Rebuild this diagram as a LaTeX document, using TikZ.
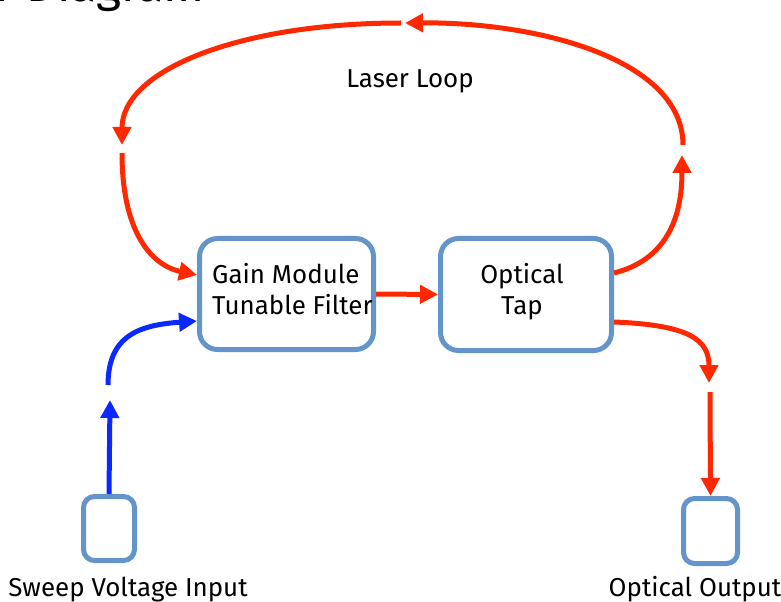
\documentclass[tikz,border=0pt]{standalone}
\usepackage{fontspec}
\setmainfont{Fira Sans}
\usetikzlibrary{arrows.meta,calc}
\definecolor{boxblue}{RGB}{100,149,202}
\definecolor{loopred}{RGB}{255,40,0}
\definecolor{sweepblue}{RGB}{10,40,255}
\begin{document}
\begin{tikzpicture}[x=1bp,y=-1bp,
  box/.style={draw=boxblue, line width=5bp, rounded corners=18bp, inner sep=0pt, fill=white},
  smallbox/.style={box, rounded corners=11bp},
  lbl/.style={font=\fontsize{26}{31}\selectfont, inner sep=0pt},
  redarrow/.style={draw=loopred, line width=5bp, -{Triangle[length=18bp,width=18bp]}},
  bluearrow/.style={draw=sweepblue, line width=5bp, -{Triangle[length=18bp,width=18bp]}}]
\useasboundingbox (0,0) rectangle (781,602);
% title (cut off at the top)
\node[font=\fontsize{48}{56}\selectfont, anchor=base east, inner sep=0pt] (title) at (205,2) {r Diagram};
% boxes
\node[box, minimum width=174bp, minimum height=111bp] (gain) at (286.5,294) {};
\node[box, minimum width=171bp, minimum height=112bp] (tap) at (526,294.5) {};
\node[smallbox, minimum width=51bp, minimum height=64bp] (sweep) at (109,528.5) {};
\node[smallbox, minimum width=54bp, minimum height=65bp] (out) at (710.5,531) {};
% box texts
\node[lbl, anchor=base west] (g1) at (212,283) {Gain Module};
\node[lbl, anchor=base west] (g2) at (212,314) {Tunable Filter};
\node[lbl, anchor=base] (t1) at (522,283) {Optical};
\node[lbl, anchor=base] (t2) at (522,314) {Tap};
\node[lbl, anchor=base] (loop) at (410,88) {Laser Loop};
\node[lbl, anchor=base] (sweepl) at (128,596) {Sweep Voltage Input};
\node[lbl, anchor=base] (outl) at (695,596) {Optical Output};
% free ends
\coordinate (rtop) at (683,145);
\coordinate (rtip) at (682,155);
\coordinate (ttip) at (405,23);
\coordinate (lstart) at (401,23);
\coordinate (ltip) at (122,145);
\coordinate (lstart2) at (122,153);
\coordinate (otip) at (709,383);
\coordinate (ostart) at (710,392);
\coordinate (btip) at (110,400);
\coordinate (bstart) at (108,385);
% red loop
\draw[redarrow] (gain.east) -- (tap.west);
\draw[redarrow] ([yshift=21.5bp]tap.east) .. controls (665,260) and (682,220) .. (rtip);
\draw[redarrow] (rtop) .. controls (683,60) and (540,22) .. (ttip);
\draw[redarrow] (lstart) .. controls (240,23) and (122,70) .. (ltip);
\draw[redarrow] (lstart2) .. controls (122,230) and (150,265) .. ([yshift=19bp]gain.west);
% output
\draw[redarrow] ([yshift=-27.5bp]tap.east) .. controls (690,325) and (709,340) .. (otip);
\draw[redarrow] (ostart) -- (out.north);
% sweep input
\draw[bluearrow] (sweep.north) -- (btip);
\draw[bluearrow] (bstart) .. controls (108,335) and (140,325) .. ([yshift=-27bp]gain.west);
\end{tikzpicture}
\end{document}
